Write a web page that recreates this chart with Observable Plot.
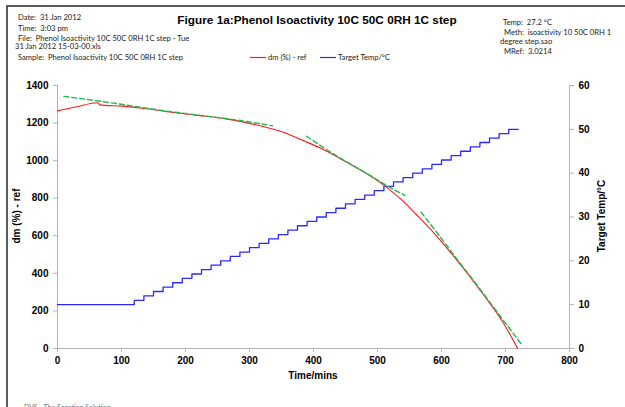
<!DOCTYPE html>
<html>
<head>
<meta charset="utf-8">
<script src="https://cdn.jsdelivr.net/npm/d3@7"></script>
<script src="https://cdn.jsdelivr.net/npm/@observablehq/plot@0.6"></script>
<style>
  html, body { margin: 0; padding: 0; background: #fff; overflow: hidden; }
  #chart svg { display: block; }
  #chart g[aria-label$="tick label"] text { font-weight: bold; }
</style>
</head>
<body>
<div id="chart"></div>
<script>
// ---- axis ticks ----
const timeTicks = [0, 100, 200, 300, 400, 500, 600, 700, 800];
const dmTicks = [0, 200, 400, 600, 800, 1000, 1200, 1400];
const tempTicks = [0, 10, 20, 30, 40, 50, 60];

// ---- dm (%) - ref (red) ----
const dmTime  = [0, 30, 63, 66, 100, 129, 180, 220, 259, 311, 360, 380, 410, 450, 488, 514, 540, 561, 590, 618, 645, 670, 695, 719];
const dmValue = [1265, 1287, 1308, 1297, 1290, 1280, 1257, 1241, 1225, 1190, 1142, 1112, 1068, 995, 921, 859, 784, 712, 608, 496, 380, 266, 145, 0];

// ---- fitted curves (green dashed), three segments ----
const fit1Time  = [10, 67, 129, 181, 259, 311, 336];
const fit1Value = [1342, 1316, 1285, 1259, 1226, 1200, 1185];
const fit2Time  = [389, 420, 456, 490, 514, 543];
const fit2Value = [1130, 1060, 985, 918, 868, 815];
const fit3Time  = [568, 600, 625, 655, 690, 726];
const fit3Value = [726, 585, 472, 340, 180, 18];

// ---- Target Temp/°C (blue, right axis) ----
const tempTime  = [0, 120, 135, 150, 165, 180, 195, 210, 225, 240, 255, 270, 285, 300, 315, 330, 345, 360, 375, 390, 405, 420, 435, 450, 465, 480, 495, 510, 525, 540, 555, 570, 585, 600, 615, 630, 645, 660, 675, 690, 705, 720];
const tempValue = [10, 11, 12, 13, 14, 15, 16, 17, 18, 19, 20, 21, 22, 23, 24, 25, 26, 27, 28, 29, 30, 31, 32, 33, 34, 35, 36, 37, 38, 39, 40, 41, 42, 43, 44, 45, 46, 47, 48, 49, 50, 50];

// ---- texts ----
const titleText = "Figure 1a:Phenol Isoactivity 10C 50C 0RH 1C step";
const infoLeft = [
  ["Date:  31 Jan 2012", 18, 20],
  ["Time:  3:03 pm", 18, 31],
  ["File:  Phenol Isoactivity 10C 50C 0RH 1C step - Tue", 18, 40.5],
  ["31 Jan 2012 15-03-00.xls", 15, 49],
  ["Sample:  Phenol Isoactivity 10C 50C 0RH 1C step", 18, 60]
];
const infoRight = [
  ["Temp:  27.2 °C", 503, 25],
  ["Meth:  isoactivity 10 50C 0RH 1", 504, 35],
  ["degree step.sao", 500, 44],
  ["MRef:  3.0214", 504, 54]
];
const seriesNames = ["dm (%) - ref", "Target Temp/°C"];
const seriesColors = ["#ff1a1a", "#2a2aff"];
const xLabel = "Time/mins";
const yLabel = "dm (%) - ref";
const y2Label = "Target Temp/°C";
const footText = "DVS - The Sorption Solution";

// ---- build tables ----
const k = 1400 / 60; // right-axis (temperature) mapped onto left scale
const dmData = dmTime.map((t, i) => ({t, v: dmValue[i]}));
const tempData = tempTime.map((t, i) => ({t, v: tempValue[i] * k}));
const fits = [[fit1Time, fit1Value], [fit2Time, fit2Value], [fit3Time, fit3Value]]
  .map(([ts, vs]) => ts.map((t, i) => ({t, v: vs[i]})));

const W = 625, H = 407;
const svg = Plot.plot({
  width: W,
  height: H,
  marginLeft: 57,
  marginRight: 56,
  marginTop: 85,
  marginBottom: 59,
  style: {fontFamily: "'Liberation Sans', Arial, sans-serif", fontSize: "10px", color: "#000", background: "#fff"},
  x: {domain: [0, 800]},
  y: {domain: [0, 1400]},
  marks: [
    Plot.ruleY([0], {stroke: "#b4b4b4"}),
    Plot.ruleX([0, 800], {stroke: "#b4b4b4"}),
    Plot.axisX({ticks: timeTicks, tickSize: 4, tickPadding: 4, stroke: "#b4b4b4", label: null, tickFormat: d => String(d)}),
    Plot.axisY({ticks: dmTicks, anchor: "left", tickSize: 4, tickPadding: 5, stroke: "#b4b4b4", label: null, tickFormat: d => String(d)}),
    Plot.axisY({ticks: tempTicks.map(t => t * k), anchor: "right", tickSize: 4, tickPadding: 5, stroke: "#b4b4b4", label: null, tickFormat: d => String(Math.round(d / k))}),
    Plot.line(tempData, {x: "t", y: "v", curve: "step-after", stroke: seriesColors[1], strokeWidth: 1.3}),
    Plot.line(dmData, {x: "t", y: "v", curve: "monotone-x", stroke: seriesColors[0], strokeWidth: 1.1}),
    ...fits.map(f => Plot.line(f, {x: "t", y: "v", curve: "natural", stroke: "#1fb850", strokeWidth: 1.4, strokeDasharray: "5,3"}))
  ]
});

const s = d3.select(svg);
// border frame
s.append("rect").attr("x", 7).attr("y", 6).attr("width", 700).attr("height", 500)
  .attr("fill", "none").attr("stroke", "#333").attr("stroke-width", 1.6);

// title
s.append("text").attr("x", 317).attr("y", 24).attr("text-anchor", "middle")
  .attr("font-family", "'Liberation Sans', Arial, sans-serif").attr("font-weight", "bold")
  .attr("font-size", 11.8).attr("fill", "#000").text(titleText);

const infoFont = "Lato, 'Open Sans', sans-serif";
infoLeft.concat(infoRight).forEach(([txt, x, y]) => {
  s.append("text").attr("x", x).attr("y", y).attr("text-anchor", "start").attr("font-family", infoFont)
    .attr("font-size", 7.6).attr("fill", "#222").text(txt);
});

// legend
const leg = [[250, 266, 268], [320, 336, 338]];
leg.forEach(([x1, x2, tx], i) => {
  s.append("line").attr("x1", x1).attr("x2", x2).attr("y1", 57.5).attr("y2", 57.5)
    .attr("stroke", seriesColors[i]).attr("stroke-width", 1.2);
  s.append("text").attr("x", tx).attr("y", 60).attr("text-anchor", "start").attr("font-family", infoFont)
    .attr("font-size", 7.6).attr("fill", "#222").text(seriesNames[i]);
});

// axis titles
const bold = (sel) => sel.attr("font-family", "'Liberation Sans', Arial, sans-serif").attr("font-weight", "bold").attr("font-size", 10).attr("fill", "#000");
bold(s.append("text").attr("x", 313).attr("y", 379).attr("text-anchor", "middle").text(xLabel));
bold(s.append("text").attr("transform", "translate(20,216) rotate(-90)").attr("text-anchor", "middle").text(yLabel));
bold(s.append("text").attr("transform", "translate(605,216) rotate(-90)").attr("text-anchor", "middle").text(y2Label));

// footer
s.append("text").attr("x", 24).attr("y", 410).attr("text-anchor", "start").attr("font-family", infoFont)
  .attr("font-size", 7).attr("fill", "#777").text(footText);

document.getElementById("chart").appendChild(svg);
</script>
</body>
</html>
